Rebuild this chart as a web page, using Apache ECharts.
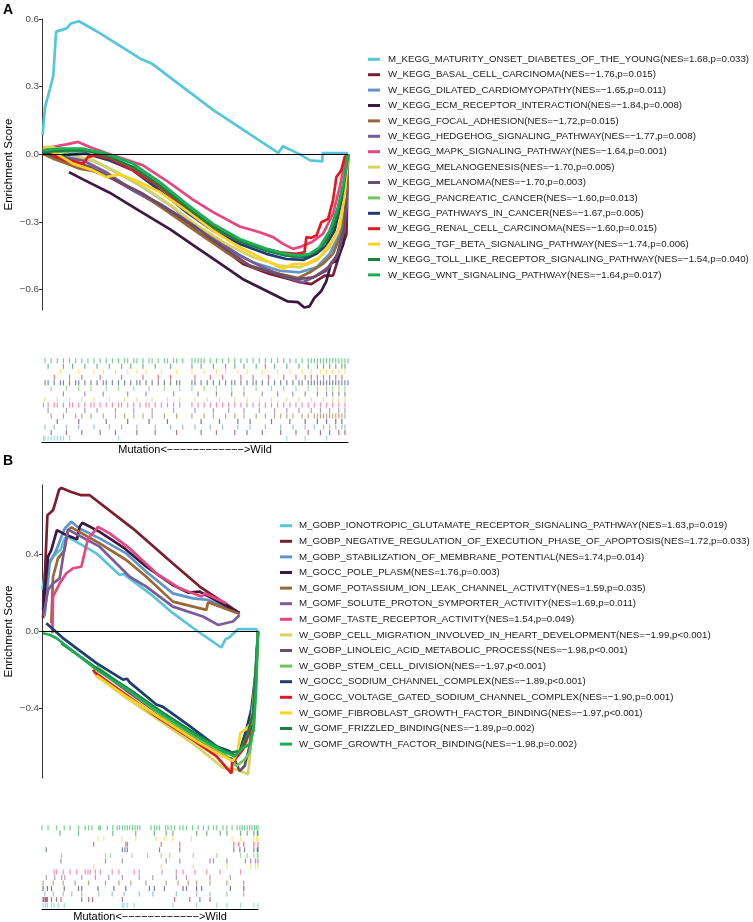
<!DOCTYPE html>
<html><head><meta charset="utf-8">
<script src="https://cdn.jsdelivr.net/npm/echarts@6/dist/echarts.min.js"></script>
<style>html,body{margin:0;padding:0;background:#fff}#c{width:753px;height:922px}</style>
</head><body><div id="c"></div><script>
// ---------------- Panel A (KEGG) ----------------
const namesA = [
"M_KEGG_MATURITY_ONSET_DIABETES_OF_THE_YOUNG(NES=1.68,p=0.033)",
"W_KEGG_BASAL_CELL_CARCINOMA(NES=\u22121.76,p=0.015)",
"W_KEGG_DILATED_CARDIOMYOPATHY(NES=\u22121.65,p=0.011)",
"W_KEGG_ECM_RECEPTOR_INTERACTION(NES=\u22121.84,p=0.008)",
"W_KEGG_FOCAL_ADHESION(NES=\u22121.72,p=0.015)",
"W_KEGG_HEDGEHOG_SIGNALING_PATHWAY(NES=\u22121.77,p=0.008)",
"W_KEGG_MAPK_SIGNALING_PATHWAY(NES=\u22121.64,p=0.001)",
"W_KEGG_MELANOGENESIS(NES=\u22121.70,p=0.005)",
"W_KEGG_MELANOMA(NES=\u22121.70,p=0.003)",
"W_KEGG_PANCREATIC_CANCER(NES=\u22121.60,p=0.013)",
"W_KEGG_PATHWAYS_IN_CANCER(NES=\u22121.67,p=0.005)",
"W_KEGG_RENAL_CELL_CARCINOMA(NES=\u22121.60,p=0.015)",
"W_KEGG_TGF_BETA_SIGNALING_PATHWAY(NES=\u22121.74,p=0.006)",
"W_KEGG_TOLL_LIKE_RECEPTOR_SIGNALING_PATHWAY(NES=\u22121.54,p=0.040)",
"W_KEGG_WNT_SIGNALING_PATHWAY(NES=\u22121.64,p=0.017)"];

// running enrichment score: [rank position %, ES]
const esA_MATURITY = [[0.2,0.084],[1.0,0.21],[2.6,0.29],[3.7,0.35],[4.6,0.544],[7.0,0.554],[8.0,0.558],[9.4,0.58],[12.1,0.59],[19.0,0.536],[32.0,0.425],[35.8,0.403],[56.0,0.196],[77.2,0.006],[78.7,0.036],[84.3,0.0],[87.6,-0.027],[91.6,-0.031],[91.7,0.006],[100,0.006]];
const esA_BASAL = [[0.3,0.003],[5.8,-0.019],[13.4,-0.056],[22.1,-0.101],[30.8,-0.167],[39.5,-0.234],[48.3,-0.308],[57.0,-0.397],[65.7,-0.486],[74.4,-0.530],[80.9,-0.553],[84.2,-0.567],[88.0,-0.575],[92.4,-0.538],[95.1,-0.538],[97.3,-0.441],[99.5,-0.353],[100,0]];
const esA_DILATED = [[0.3,0.010],[8.0,-0.012],[16.7,-0.027],[24.3,-0.079],[33.0,-0.145],[42.8,-0.234],[51.5,-0.338],[60.2,-0.412],[68.9,-0.479],[77.7,-0.516],[84.2,-0.523],[89.7,-0.501],[94.0,-0.441],[97.3,-0.353],[99.5,-0.175],[100,0]];
const esA_ECM = [[8.8,-0.079],[13.4,-0.111],[22.1,-0.170],[32.0,-0.252],[41.9,-0.333],[50.7,-0.415],[57.2,-0.474],[66.0,-0.556],[72.6,-0.600],[80.3,-0.652],[83.6,-0.655],[85.7,-0.679],[87.4,-0.674],[89.0,-0.637],[91.2,-0.607],[92.9,-0.563],[94.5,-0.481],[96.2,-0.474],[98.4,-0.400],[100,0]];
const esA_FOCAL = [[0.3,0.003],[3.6,-0.019],[8.0,-0.041],[12.3,-0.064],[18.8,-0.079],[25.4,-0.123],[34.1,-0.190],[42.8,-0.271],[51.5,-0.353],[60.2,-0.434],[68.9,-0.501],[77.7,-0.530],[83.7,-0.548],[87.5,-0.523],[91.8,-0.486],[95.1,-0.441],[97.8,-0.353],[99.5,-0.204],[100,0]];
const esA_HEDGEHOG = [[0.3,0.010],[5.8,-0.012],[13.4,-0.027],[21.0,-0.079],[29.7,-0.160],[38.5,-0.219],[47.2,-0.293],[55.9,-0.367],[64.6,-0.449],[73.3,-0.508],[79.8,-0.545],[85.3,-0.567],[89.7,-0.538],[93.5,-0.501],[96.7,-0.441],[98.4,-0.353],[99.5,-0.234],[100,0]];
const esA_MAPK = [[0.3,0.025],[8.0,0.044],[11.8,0.055],[15.6,0.033],[21.0,0.006],[27.6,-0.024],[33.0,-0.049],[40.6,-0.116],[49.3,-0.201],[55.9,-0.256],[64.6,-0.320],[71.1,-0.345],[75.5,-0.367],[78.8,-0.397],[82.0,-0.419],[84.7,-0.409],[88.0,-0.390],[91.8,-0.353],[95.1,-0.264],[97.3,-0.145],[98.9,-0.041],[100,0]];
const esA_MELANOGENESIS = [[0.3,0.033],[3.6,0.033],[8.0,0.003],[16.7,-0.027],[25.4,-0.086],[34.1,-0.153],[42.8,-0.234],[51.5,-0.323],[60.2,-0.397],[68.9,-0.456],[77.7,-0.493],[84.2,-0.501],[89.7,-0.471],[94.0,-0.412],[97.3,-0.323],[99.5,-0.145],[100,0]];
const esA_MELANOMA = [[0.3,0.006],[8.0,-0.019],[15.6,-0.056],[24.3,-0.116],[33.0,-0.175],[41.7,-0.249],[50.4,-0.323],[59.2,-0.412],[67.9,-0.493],[76.6,-0.530],[83.1,-0.553],[88.6,-0.545],[92.9,-0.516],[96.2,-0.456],[98.9,-0.323],[100,0]];
const esA_PANCREATIC = [[0.3,0.015],[8.0,0.010],[16.7,0.010],[24.3,-0.027],[31.9,-0.079],[40.6,-0.160],[49.3,-0.256],[58.1,-0.338],[66.8,-0.397],[75.5,-0.434],[82.0,-0.453],[86.4,-0.453],[90.7,-0.419],[94.0,-0.367],[96.7,-0.279],[98.9,-0.145],[100,0]];
const esA_PATHWAYS = [[0.3,0.010],[5.8,-0.004],[14.5,0.003],[22.1,-0.027],[29.7,-0.071],[38.5,-0.160],[47.2,-0.256],[55.9,-0.338],[64.6,-0.397],[73.3,-0.441],[79.8,-0.464],[85.3,-0.468],[89.7,-0.441],[92.9,-0.404],[95.6,-0.338],[98.4,-0.175],[100,0]];
const esA_RENAL = [[2.5,0.003],[8.0,-0.027],[13.4,-0.041],[15.0,-0.012],[17.8,-0.004],[22.1,-0.019],[29.7,-0.071],[38.5,-0.145],[47.2,-0.241],[55.9,-0.323],[64.6,-0.385],[71.1,-0.412],[77.7,-0.434],[83.1,-0.441],[85.8,-0.434],[86.4,-0.367],[88.0,-0.370],[89.7,-0.360],[91.3,-0.301],[93.5,-0.286],[95.1,-0.204],[96.2,-0.101],[97.8,-0.071],[98.9,-0.012],[100,0]];
const esA_TGF = [[0.3,0.025],[4.7,0.003],[10.1,-0.041],[16.7,-0.071],[21.0,-0.101],[25.4,-0.089],[31.9,-0.123],[38.5,-0.167],[47.2,-0.249],[55.9,-0.338],[64.6,-0.412],[73.3,-0.471],[78.8,-0.508],[82.0,-0.486],[86.4,-0.486],[90.7,-0.456],[94.0,-0.397],[96.7,-0.338],[98.9,-0.190],[100,0]];
const esA_TOLL = [[0.3,0.010],[8.0,0.018],[14.5,0.018],[22.1,-0.012],[29.7,-0.056],[38.5,-0.138],[47.2,-0.234],[55.9,-0.323],[64.6,-0.385],[73.3,-0.427],[79.8,-0.449],[85.3,-0.456],[89.7,-0.430],[92.9,-0.382],[95.6,-0.308],[98.4,-0.160],[100,0]];
const esA_WNT = [[0.3,0.018],[5.8,0.025],[13.4,0.025],[21.0,0.003],[29.7,-0.041],[38.5,-0.123],[47.2,-0.219],[55.9,-0.308],[64.6,-0.375],[73.3,-0.419],[79.8,-0.441],[84.2,-0.449],[87.5,-0.441],[90.7,-0.412],[94.0,-0.338],[96.7,-0.234],[98.9,-0.101],[100,0]];

// hit positions (rank %) for the rug
const hitsA_MATURITY = [0.5,1,2,3,4,5,6,7,9,25,80,86,93];
const hitsA_BASAL = [3,8,13,19,24,31,37,44,52,57,63,67,72,78,83,87,91,94,97,99];
const hitsA_DILATED = [1,4,8,12,17,22,26,31,37,42,46,50,55,59,64,68,73,78,82,86,89,92,94,96,98,99];
const hitsA_ECM = [5,12,21,28,35,41,52,58,64,68,75,81,86,90,93,96,98];
const hitsA_FOCAL = [3,7,11,13,16,20,24,27,30,33,36,40,44,49,53,56,60,63,66,70,73,76,78,80,82,85,87,89,90,91,92,93,94,95,96,97,98,99];
const hitsA_HEDGEHOG = [2,8,14,18,24,30,36,43,50,56,61,66,71,76,80,84,88,91,94,97,99];
const hitsA_MAPK = [0.5,2,4,5,7,9,10,12,14,16,17,19,21,23,25,26,28,30,32,34,35,37,39,41,43,45,49,51,53,55,57,59,61,63,65,67,69,71,73,75,77,79,81,83,85,87,89,91,93,95,97,99];
const hitsA_MELANOGENESIS = [1,5,9,13,17,22,27,31,36,41,45,50,54,58,63,67,71,75,80,84,88,92,95,97,99];
const hitsA_MELANOMA = [7,14,20,28,34,43,51,57,62,66,72,77,82,86,90,93,95,97,99];
const hitsA_PANCREATIC = [3,8,12,16,21,25,30,35,40,45,49,53,57,62,66,70,75,79,83,87,90,93,95,97,99];
const hitsA_PATHWAYS = [1,2,4,6,7,9,11,12,14,16,18,20,21,23,25,27,29,31,32,34,36,38,40,42,44,45,49,50,52,54,56,58,60,62,63,65,67,69,70,72,74,76,78,80,82,84,85,87,88,89,90,91,92,93,94,95,96,97,98,99,100];
const hitsA_RENAL = [4,9,13,19,26,33,38,42,50,55,59,65,69,74,79,83,86,88,90,92,94,96,98];
const hitsA_TGF = [6,12,17,20,24,28,31,34,39,44,49,53,57,60,64,67,72,77,81,85,88,91,93,95,97,99];
const hitsA_TOLL = [2,7,10,14,18,22,26,29,33,37,42,49,52,56,60,63,66,70,73,76,80,84,87,90,92,94,96,98,99];
const hitsA_WNT = [1,3,5,7,9,11,13,15,17,19,21,23,25,27,28,30,31,33,35,36,38,40,41,43,44,46,49,50,51,52,53,55,57,59,61,63,65,67,69,71,73,75,77,79,81,83,85,87,88,89,90,91,92,93,94,95,96,97,98,99,100];

// ---------------- Panel B (GO) ----------------
const namesB = [
"M_GOBP_IONOTROPIC_GLUTAMATE_RECEPTOR_SIGNALING_PATHWAY(NES=1.63,p=0.019)",
"M_GOBP_NEGATIVE_REGULATION_OF_EXECUTION_PHASE_OF_APOPTOSIS(NES=1.72,p=0.033)",
"M_GOBP_STABILIZATION_OF_MEMBRANE_POTENTIAL(NES=1.74,p=0.014)",
"M_GOCC_POLE_PLASM(NES=1.76,p=0.003)",
"M_GOMF_POTASSIUM_ION_LEAK_CHANNEL_ACTIVITY(NES=1.59,p=0.035)",
"M_GOMF_SOLUTE_PROTON_SYMPORTER_ACTIVITY(NES=1.69,p=0.011)",
"M_GOMF_TASTE_RECEPTOR_ACTIVITY(NES=1.54,p=0.049)",
"W_GOBP_CELL_MIGRATION_INVOLVED_IN_HEART_DEVELOPMENT(NES=\u22121.99,p<0.001)",
"W_GOBP_LINOLEIC_ACID_METABOLIC_PROCESS(NES=\u22121.98,p<0.001)",
"W_GOBP_STEM_CELL_DIVISION(NES=\u22121.97,p<0.001)",
"W_GOCC_SODIUM_CHANNEL_COMPLEX(NES=\u22121.89,p<0.001)",
"W_GOCC_VOLTAGE_GATED_SODIUM_CHANNEL_COMPLEX(NES=\u22121.90,p=0.001)",
"W_GOMF_FIBROBLAST_GROWTH_FACTOR_BINDING(NES=\u22121.97,p<0.001)",
"W_GOMF_FRIZZLED_BINDING(NES=\u22121.89,p=0.002)",
"W_GOMF_GROWTH_FACTOR_BINDING(NES=\u22121.98,p=0.002)"];

const esB_IONOTROPIC = [[0.2,0.216],[2.0,0.345],[5.1,0.388],[7.4,0.414],[8.5,0.422],[10.5,0.483],[12.0,0.491],[25.2,0.405],[36.0,0.293],[37.8,0.298],[49.8,0.198],[60.6,0.095],[72.2,0.0],[83.0,-0.083],[85.0,-0.040],[86.9,-0.029],[90.7,0.012],[99.2,0.012],[100,0]];
const esB_NEGREG = [[0.5,0.069],[2.5,0.603],[5.1,0.629],[6.3,0.672],[7.9,0.736],[9.0,0.745],[13.6,0.724],[18.2,0.707],[22.1,0.707],[42.1,0.534],[60.6,0.353],[73.0,0.233],[91.5,0.095]];
const esB_STABIL = [[1.2,0.078],[3.5,0.353],[6.6,0.422],[10.5,0.534],[13.6,0.569],[17.4,0.534],[26.7,0.483],[39.0,0.405],[48.3,0.310],[60.6,0.198],[69.9,0.172],[76.9,0.164],[91.5,0.095]];
const esB_POLE = [[0.5,0.112],[2.8,0.388],[4.3,0.422],[6.9,0.526],[11.3,0.500],[16.2,0.478],[17.4,0.543],[18.7,0.564],[26.7,0.517],[38.3,0.431],[48.3,0.336],[60.6,0.241],[67.6,0.202],[73.0,0.207],[73.8,0.216],[91.5,0.095]];
const esB_POTASSIUM = [[4.3,0.043],[5.1,0.284],[7.4,0.379],[10.5,0.422],[12.0,0.526],[13.6,0.540],[26.7,0.457],[39.0,0.371],[48.3,0.284],[60.6,0.155],[76.1,0.112],[76.9,0.152],[91.5,0.091]];
const esB_SOLUTE = [[0.9,0.095],[2.8,0.216],[5.1,0.250],[8.2,0.276],[10.5,0.440],[12.0,0.529],[26.7,0.440],[40.6,0.284],[48.3,0.233],[60.6,0.129],[74.5,0.078],[81.5,0.034],[88.4,0.052],[91.5,0.086]];
const esB_TASTE = [[4.8,-0.009],[5.1,0.181],[8.2,0.250],[11.3,0.302],[14.4,0.328],[18.2,0.336],[21.3,0.483],[22.8,0.500],[25.9,0.543],[31.3,0.509],[40.6,0.431],[52.9,0.302],[63.7,0.224],[73.8,0.181],[75.3,0.198],[85.3,0.147]];
const esB_CELLMIG = [[24.4,-0.224],[39.0,-0.345],[56.0,-0.474],[71.5,-0.595],[83.8,-0.707],[90.0,-0.716],[95.4,-0.741],[96.1,-0.664],[97.7,-0.457],[99.2,-0.198],[100,0]];
const esB_LINOLEIC = [[25.2,-0.190],[40.6,-0.319],[56.0,-0.443],[71.5,-0.560],[83.8,-0.647],[89.2,-0.664],[91.5,-0.724],[93.8,-0.698],[96.1,-0.595],[98.5,-0.371],[100,0]];
const esB_STEM = [[25.2,-0.181],[40.6,-0.310],[56.0,-0.440],[71.5,-0.552],[83.8,-0.629],[90.0,-0.698],[93.8,-0.664],[96.1,-0.629],[98.0,-0.491],[100,0]];
const esB_SODIUM = [[2.0,0.043],[9.7,-0.034],[25.2,-0.164],[37.5,-0.250],[39.4,-0.245],[40.6,-0.264],[52.9,-0.379],[56.0,-0.391],[68.4,-0.491],[80.7,-0.595],[86.9,-0.621],[89.2,-0.647],[91.5,-0.621],[94.6,-0.509],[96.9,-0.405],[98.9,-0.216],[100,0]];
const esB_VOLTAGE = [[23.6,-0.198],[24.4,-0.212],[39.0,-0.328],[52.9,-0.440],[68.4,-0.552],[80.7,-0.647],[87.7,-0.736],[88.0,-0.681],[93.1,-0.612],[96.5,-0.509],[98.5,-0.336],[100,0]];
const esB_FIBRO = [[25.2,-0.229],[39.0,-0.336],[56.0,-0.457],[71.5,-0.569],[83.8,-0.647],[88.4,-0.672],[90.7,-0.621],[91.8,-0.526],[94.3,-0.509],[96.9,-0.474],[98.9,-0.233],[100,0]];
const esB_FRIZZLED = [[8.9,-0.060],[25.2,-0.190],[40.6,-0.302],[56.0,-0.422],[71.5,-0.534],[83.8,-0.616],[86.9,-0.629],[91.5,-0.621],[95.4,-0.526],[97.7,-0.422],[100,0]];
const esB_GROWTH = [[0.5,-0.009],[3.5,-0.017],[6.6,-0.034],[25.2,-0.198],[40.6,-0.310],[56.0,-0.431],[71.5,-0.543],[83.8,-0.621],[89.2,-0.647],[93.1,-0.603],[96.1,-0.586],[98.0,-0.509],[99.2,-0.284],[100,0]];

const hitsB_IONOTROPIC = [0.5,1.6,2.5,4.4,5.6,7.5,10.3,37.2,38,39.5,42.7,60.6,71.6,80.9,85.6,91.9,98.1,100];
const hitsB_NEGREG = [0.5,0.9,1.6,2,2.5,4.4,6.7,8.8,18.4,21.6,23.4,37.2,61.4,68.4,73.1,77.8];
const hitsB_STABIL = [1.3,5.2,9.8,13.8,18.4,26.3,32.5,38,45,51.3,62.2,71.6,77.8,85.6,93.4];
const hitsB_POLE = [0.5,2.5,4.4,10.3,16.9,18.4,25.9,33.3,38.8,49.7,52,56.7,65.3,66.9,71.6,73.9,87.2,93.4];
const hitsB_POTASSIUM = [0.5,5.2,9.8,15.3,21.6,29.4,35.6,41.1,48.1,57.5,63,67.7,71.6,77.8,85.6,93.4];
const hitsB_SOLUTE = [2,5.9,9.1,10.6,18.4,24.7,30.9,37.2,45,51.3,62.2,66.9,77.8,87.2];
const hitsB_TASTE = [5.6,6.7,9.8,13,16.1,20,21.3,22.3,24.7,27,32.5,35.6,42.7,45,55.6,62.2,65.3,70.8,76.3,82.5,91.9];
const hitsB_CELLMIG = [23.9,55.2,70,85.6,96.6,98.9,100];
const hitsB_LINOLEIC = [8.8,29.4,37.2,57.5,63.8,77.8,79.4,85.6,94.2,96.6,98.9,100];
const hitsB_STEM = [9.1,29.4,31.7,41.6,48.9,55.2,59.1,70,80.9,91.9,95,98.1,99.7,100];
const hitsB_SODIUM = [2,37.2,38.4,39.5,54.4,63.8,88.8,91.6,93.8,98.1,99.7,100];
const hitsB_VOLTAGE = [23.9,38.8,39.5,55.2,63.8,88.8,91.1,93.4,98.1,100];
const hitsB_FIBRO = [25.9,28.6,36.9,43.4,52.8,56.7,60.6,69.2,88,91.9,98.1,99.4,100];
const hitsB_FRIZZLED = [8.3,16.9,32.8,43.4,52,57.5,60.6,71.6,76.3,82.5,85.6,91.9,95,98.1,99.7,100];
const hitsB_GROWTH = [0,2.8,6.7,10.3,13,16.9,20,21.6,23.1,26.3,27,30.2,32.8,34.8,35.9,37.2,38.4,39.5,40.6,41.9,43.1,44.2,45.3,50.5,52,53.1,54.4,57.2,58.3,59.8,61.4,63.8,65.3,66.9,69.7,72.3,74.7,77,79.4,80.9,83.8,85.6,88,90.3,91.6,92.7,93.8,95,96.1,97.2,98.4,99.2,100];

const yTicksA = [-0.6, -0.3, 0, 0.3, 0.6];
const yTicksB = [-0.4, 0, 0.4];
const xLabel = "Mutation<\u2212\u2212\u2212\u2212\u2212\u2212\u2212\u2212\u2212\u2212\u2212\u2212>Wild";

// ---------------- styles ----------------
const palette = ['#56C7DA','#7C1D31','#5E96CB','#3E1843','#9A6834','#7A5C9D','#E8467F','#D8D45B','#6C4D6A','#6CC65B','#213B74','#E01B20','#FFD21F','#198040','#1DAE55'];
const curvesA = [esA_MATURITY,esA_BASAL,esA_DILATED,esA_ECM,esA_FOCAL,esA_HEDGEHOG,esA_MAPK,esA_MELANOGENESIS,esA_MELANOMA,esA_PANCREATIC,esA_PATHWAYS,esA_RENAL,esA_TGF,esA_TOLL,esA_WNT];
const rugsA = [hitsA_MATURITY,hitsA_BASAL,hitsA_DILATED,hitsA_ECM,hitsA_FOCAL,hitsA_HEDGEHOG,hitsA_MAPK,hitsA_MELANOGENESIS,hitsA_MELANOMA,hitsA_PANCREATIC,hitsA_PATHWAYS,hitsA_RENAL,hitsA_TGF,hitsA_TOLL,hitsA_WNT];
const curvesB = [esB_IONOTROPIC,esB_NEGREG,esB_STABIL,esB_POLE,esB_POTASSIUM,esB_SOLUTE,esB_TASTE,esB_CELLMIG,esB_LINOLEIC,esB_STEM,esB_SODIUM,esB_VOLTAGE,esB_FIBRO,esB_FRIZZLED,esB_GROWTH];
const rugsB = [hitsB_IONOTROPIC,hitsB_NEGREG,hitsB_STABIL,hitsB_POLE,hitsB_POTASSIUM,hitsB_SOLUTE,hitsB_TASTE,hitsB_CELLMIG,hitsB_LINOLEIC,hitsB_STEM,hitsB_SODIUM,hitsB_VOLTAGE,hitsB_FIBRO,hitsB_FRIZZLED,hitsB_GROWTH];

const FONT = "'Liberation Sans', Arial, sans-serif";
const fmt = v => (v < 0 ? '\u2212' : '') + Math.abs(v).toFixed(1);

function yAxisMain(gi, min, max, ticks) {
  return {
    type: 'value', gridIndex: gi, min: min, max: max,
    name: 'Enrichment Score', nameLocation: 'middle', nameGap: 27,
    nameTextStyle: { fontSize: 11.6, color: '#000', fontFamily: FONT },
    axisLine: { show: true, lineStyle: { color: '#333', width: 1 } },
    axisTick: { show: true, length: 3, lineStyle: { color: '#333' }, customValues: ticks },
    axisLabel: { show: true, margin: 3, fontSize: 9.8, color: '#4D4D4D', fontFamily: FONT, customValues: ticks, formatter: fmt },
    splitLine: { show: false }
  };
}
function xAxisMain(gi) {
  return { type: 'value', gridIndex: gi, min: 0, max: 100, show: false };
}
function xAxisRug(gi) {
  return {
    type: 'value', gridIndex: gi, min: 0, max: 100,
    name: xLabel, nameLocation: 'middle', nameGap: 2,
    nameTextStyle: { fontSize: 11, color: '#000', fontFamily: FONT, verticalAlign: 'top' },
    axisLine: { show: true, onZero: false, lineStyle: { color: '#000', width: 1.2 } },
    axisTick: { show: false }, axisLabel: { show: false }, splitLine: { show: false }
  };
}
function yAxisRug(gi) {
  return { type: 'value', gridIndex: gi, min: -0.2, max: 15, show: false };
}

const series = [];
function addPanel(names, curves, rugs, gMain, gRug) {
  names.forEach((nm, i) => {
    const s = {
      name: nm, type: 'line', xAxisIndex: gMain, yAxisIndex: gMain,
      data: curves[i], showSymbol: false, symbol: 'none',
      lineStyle: { color: palette[i], width: 2.7 }, itemStyle: { color: palette[i] },
      emphasis: { disabled: true }, silent: true, animation: false, z: 3
    };
    if (i === 0) {
      s.markLine = { silent: true, symbol: 'none', label: { show: false },
        lineStyle: { color: '#000', width: 1, type: 'solid' }, data: [{ yAxis: 0 }], animation: false };
    }
    series.push(s);
    series.push({
      name: nm + ' hits', type: 'scatter', xAxisIndex: gRug, yAxisIndex: gRug,
      data: rugs[i].map(x => [x, i + 0.5]),
      symbol: 'rect', symbolSize: [1.2, 5],
      itemStyle: { color: palette[i], opacity: 0.6 },
      emphasis: { disabled: true }, silent: true, animation: false
    });
  });
}
addPanel(namesA, curvesA, rugsA, 0, 1);
addPanel(namesB, curvesB, rugsB, 2, 3);

function legendFor(names, left, top, gap, tpad) {
  return {
    data: names, orient: 'vertical', left: left, top: top, padding: 0,
    icon: 'rect', itemWidth: 12, itemHeight: 3, itemGap: gap,
    selectedMode: false,
    textStyle: { fontSize: 9.7, lineHeight: 14, color: '#1A1A1A', fontFamily: FONT, padding: [0, 0, 0, tpad] }
  };
}

const chart = echarts.init(document.getElementById('c'), null, { renderer: 'canvas' });
chart.setOption({
  animation: false,
  backgroundColor: '#fff',
  textStyle: { fontFamily: FONT },
  grid: [
    { left: 42, top: 19, width: 306, height: 291, outerBoundsMode: 'none', containLabel: false },
    { left: 42, top: 358, width: 306, height: 84, outerBoundsMode: 'none', containLabel: false },
    { left: 42, top: 485, width: 216, height: 293, outerBoundsMode: 'none', containLabel: false },
    { left: 42, top: 825, width: 216, height: 84, outerBoundsMode: 'none', containLabel: false }
  ],
  xAxis: [xAxisMain(0), xAxisRug(1), xAxisMain(2), xAxisRug(3)],
  yAxis: [yAxisMain(0, -0.69, 0.6, yTicksA), yAxisRug(1), yAxisMain(2, -0.76, 0.76, yTicksB), yAxisRug(3)],
  legend: [legendFor(namesA, 368, 52.3, 1.4, 3), legendFor(namesB, 280, 518.7, 1.6, 2)],
  graphic: [
    { type: 'text', left: 3, top: 3, style: { text: 'A', fontSize: 14, fontWeight: 'bold', fill: '#000', fontFamily: FONT } },
    { type: 'text', left: 3, top: 454, style: { text: 'B', fontSize: 14, fontWeight: 'bold', fill: '#000', fontFamily: FONT } }
  ],
  series: series
});
</script></body></html>
